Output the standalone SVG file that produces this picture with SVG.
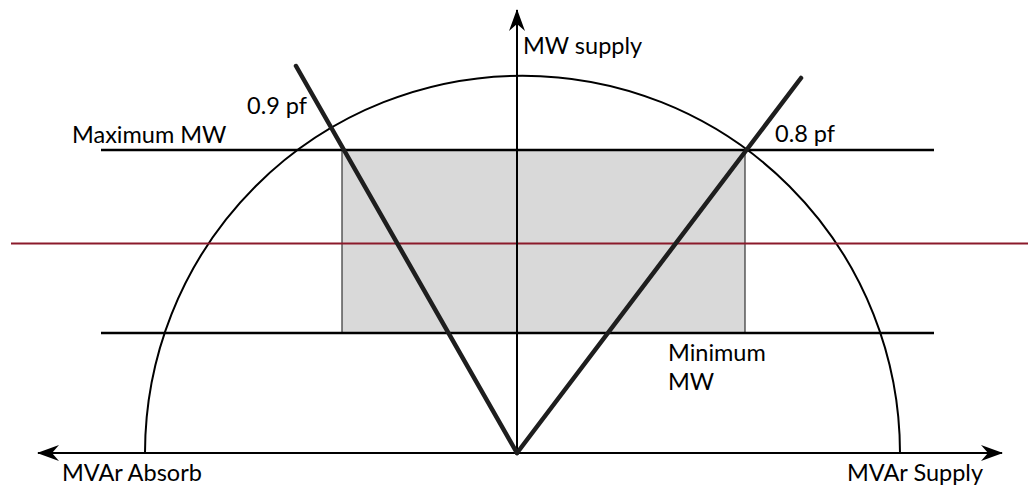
<svg xmlns="http://www.w3.org/2000/svg" width="1028" height="486" viewBox="0 0 1028 486">
<style>
.lbl{font-family:Lato,"Open Sans","Liberation Sans",sans-serif;font-size:23.5px;fill:#000}
.ax{stroke:#000;stroke-width:2;fill:none}
.lim{stroke:#000;stroke-width:2.5;fill:none}
.pf{stroke:#1e1e1e;stroke-width:4.5;fill:none;stroke-linecap:round}
</style>
<defs>
<marker id="arr" viewBox="0 0 22 16" refX="21" refY="8" markerWidth="22" markerHeight="16" markerUnits="userSpaceOnUse" orient="auto">
<path d="M0,0 L22,8 L0,16 L7,8 Z" fill="#000"/>
</marker>
</defs>
<rect width="1028" height="486" fill="#fff"/>
<g id="region">
<rect x="342" y="150" width="403" height="183" fill="#d9d9d9" stroke="#333" stroke-width="1.2"/>
</g>
<g id="connectors">
<path id="circle" class="ax" d="M145,453 A377,377 0 0 1 900,453"/>
<line id="max-mw" class="lim" x1="101" y1="150" x2="934" y2="150"/>
<line id="min-mw" class="lim" x1="101" y1="333" x2="934" y2="333"/>
<line id="red-line" x1="11" y1="243.5" x2="1028" y2="243.5" stroke="#8b1a2b" stroke-width="2.2"/>
<line id="h-axis-l" class="ax" x1="517" y1="453" x2="38" y2="453" marker-end="url(#arr)"/>
<line id="h-axis-r" class="ax" x1="517" y1="453" x2="1002" y2="453" marker-end="url(#arr)"/>
<line id="v-axis" class="ax" x1="517" y1="453" x2="517" y2="10" marker-end="url(#arr)"/>
<line id="pf09" class="pf" x1="517" y1="453" x2="296" y2="66"/>
<line id="pf08" class="pf" x1="517" y1="453" x2="801" y2="78"/>
</g>
<g id="labels">
<text class="lbl" x="523" y="54">MW supply</text>
<text class="lbl" x="247" y="114">0.9 pf</text>
<text class="lbl" x="72" y="143">Maximum MW</text>
<text class="lbl" x="775" y="142">0.8 pf</text>
<text class="lbl" x="668" y="361">Minimum</text>
<text class="lbl" x="668" y="390">MW</text>
<text class="lbl" x="62" y="481">MVAr Absorb</text>
<text class="lbl" x="847" y="481">MVAr Supply</text>
</g>
</svg>
